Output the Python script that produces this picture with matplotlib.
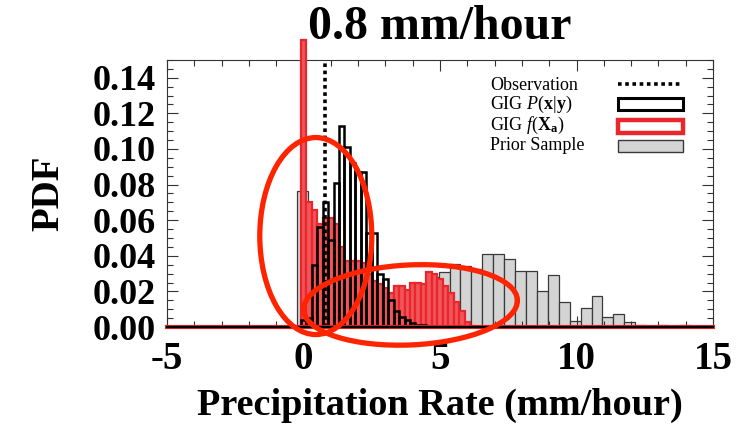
import numpy as np
import matplotlib
matplotlib.use("Agg")
import matplotlib.pyplot as plt
import matplotlib.transforms as mtransforms
from matplotlib.patches import Ellipse, Rectangle
from matplotlib.lines import Line2D
from matplotlib.ticker import MultipleLocator, FormatStrFormatter

plt.rcParams["font.family"] = "Liberation Serif"
plt.rcParams["mathtext.fontset"] = "custom"
plt.rcParams["mathtext.rm"] = "Liberation Serif"
plt.rcParams["mathtext.it"] = "Liberation Serif:italic"
plt.rcParams["mathtext.bf"] = "Liberation Serif:bold"
plt.rcParams["axes.unicode_minus"] = False

# observed rain rate (mm/hour)
obs_rate = 0.8

# prior sample, 0.4 mm/hour bins
prior_start = -0.25
prior_width = 0.4
prior_pdf = [0.0765, 0.040, 0.045, 0.045, 0.050, 0.050, 0.045, 0.025, 0.018,
             0.020, 0.020, 0.023, 0.028, 0.031, 0.0355, 0.0342, 0.0327, 0.0408,
             0.0408, 0.0383, 0.0317, 0.0317, 0.0204, 0.029, 0.0142, 0.0034,
             0.0109, 0.0172, 0.0058, 0.0072, 0.003, 0.001, 0.0005, 0.001, 0.0,
             0.001]

# GIG P(x|y), 0.2 mm/hour bins
post_start = -0.1
post_width = 0.2
post_pdf = [0.004, 0.005, 0.0346, 0.056, 0.070, 0.049, 0.081, 0.113, 0.101,
            0.092, 0.087, 0.087, 0.053, 0.053, 0.030, 0.027, 0.015, 0.009,
            0.0055, 0.004, 0.0025, 0.0013, 0.001]

# GIG f(X_a), 0.2 mm/hour bins
fxa_start = -0.1
fxa_width = 0.2
fxa_pdf = [0.161, 0.070, 0.066, 0.058, 0.061, 0.061, 0.058, 0.045, 0.037,
           0.037, 0.037, 0.036, 0.030, 0.026, 0.024, 0.022, 0.019, 0.023,
           0.023, 0.021, 0.025, 0.025, 0.024, 0.031, 0.030, 0.027, 0.023,
           0.019, 0.014, 0.009, 0.003, 0.0006]

legend_labels = ["Observation", r"GIG $P$($\mathbf{x}$|$\mathbf{y}$)",
                 r"GIG $f$($\mathbf{X}_\mathbf{a}$)", "Prior Sample"]

prior_x = prior_start + prior_width * np.arange(len(prior_pdf))
post_x = post_start + post_width * np.arange(len(post_pdf))
fxa_x = fxa_start + fxa_width * np.arange(len(fxa_pdf))

RED = "#e8262b"

fig = plt.figure(figsize=(7.48, 4.26), dpi=100)
ax = fig.add_axes([167 / 748, 1 - 327 / 426, 546 / 748, 267 / 426])

ax.set_xlim(-5, 15)
ax.set_ylim(0, 0.15)

ax.bar(prior_x, prior_pdf, width=prior_width, align="edge", color="#d4d4d4",
       edgecolor="#3a3a3a", linewidth=0.9, zorder=1)
ax.bar(post_x, post_pdf, width=post_width, align="edge", color="white",
       linewidth=0, zorder=2)
ax.bar(fxa_x, fxa_pdf, width=fxa_width, align="edge", color="#f0555a",
       edgecolor=RED, linewidth=1.6, zorder=3, clip_on=False)
ax.bar(post_x, post_pdf, width=post_width, align="edge", fill=False,
       edgecolor="black", linewidth=1.8, zorder=4)
ax.plot([obs_rate, obs_rate], [0, 0.15], color="black", lw=2.6,
        ls=(0, (1, 1)), zorder=5)

# zero level of the histograms along the whole axis
ax.axhline(0, color=RED, lw=3, zorder=5, clip_on=False)
ax.axhline(0, color="black", lw=1.6, zorder=6, clip_on=False)

# axes styling
ax.xaxis.set_major_locator(MultipleLocator(5))
ax.xaxis.set_minor_locator(MultipleLocator(1))
ax.yaxis.set_major_locator(MultipleLocator(0.02))
ax.yaxis.set_minor_locator(MultipleLocator(0.005))
ax.yaxis.set_major_formatter(FormatStrFormatter("%.2f"))
ax.tick_params(which="both", direction="in", top=True, right=True,
               width=0.8, color="#333333")
ax.tick_params(which="major", length=8)
ax.tick_params(which="minor", length=4)
ax.tick_params(axis="x", labelsize=28, pad=10)
ax.tick_params(axis="y", labelsize=26, pad=8)
for lab in ax.get_xticklabels() + ax.get_yticklabels():
    lab.set_fontweight("bold")
for sp in ax.spines.values():
    sp.set_linewidth(0.8)
    sp.set_color("#333333")

ax.set_title(f"{obs_rate} mm/hour", fontsize=34.5, fontweight="bold", pad=15)
ax.set_xlabel("Precipitation Rate (mm/hour)", fontsize=27.5,
              fontweight="bold", labelpad=7)
ax.set_ylabel("PDF", fontsize=28, fontweight="bold", labelpad=18)

# legend, drawn by hand
text_x = 0.592
sym_x0, sym_x1 = 0.826, 0.945
baselines = [0.888, 0.815, 0.738, 0.663]
for lab, yb in zip(legend_labels, baselines):
    ax.text(text_x, yb, lab, transform=ax.transAxes, fontsize=13,
            va="baseline", ha="left", zorder=8)
ax.add_line(Line2D([sym_x0, sym_x1], [0.910, 0.910], transform=ax.transAxes,
                   color="black", lw=2.6, ls=(0, (1, 1)), zorder=8))
ax.add_patch(Rectangle((sym_x0, 0.811), sym_x1 - sym_x0, 0.048,
                       transform=ax.transAxes, facecolor="white",
                       edgecolor="black", lw=2.2, zorder=8))
ax.add_patch(Rectangle((sym_x0, 0.726), sym_x1 - sym_x0, 0.050,
                       transform=ax.transAxes, facecolor="white",
                       edgecolor=RED, lw=3.2, zorder=8))
ax.add_patch(Rectangle((sym_x0, 0.655), sym_x1 - sym_x0, 0.047,
                       transform=ax.transAxes, facecolor="#d4d4d4",
                       edgecolor="#3a3a3a", lw=1.0, zorder=8))


# hand-drawn rings, centre in data units, size in pixels
def ring(cx, cy, w, h, angle):
    px, py = ax.transData.transform((cx, cy))
    tr = mtransforms.Affine2D().translate(px, py)
    e = Ellipse((0, 0), w, h, angle=angle, transform=tr, fill=False,
                edgecolor="#ff2400", lw=3.8, zorder=10, clip_on=False)
    ax.add_patch(e)


ring(0.45, 0.0511, 112, 197, 0)
ring(3.92, 0.0124, 214, 80, 2.7)

fig.savefig("out.png", dpi=100)
